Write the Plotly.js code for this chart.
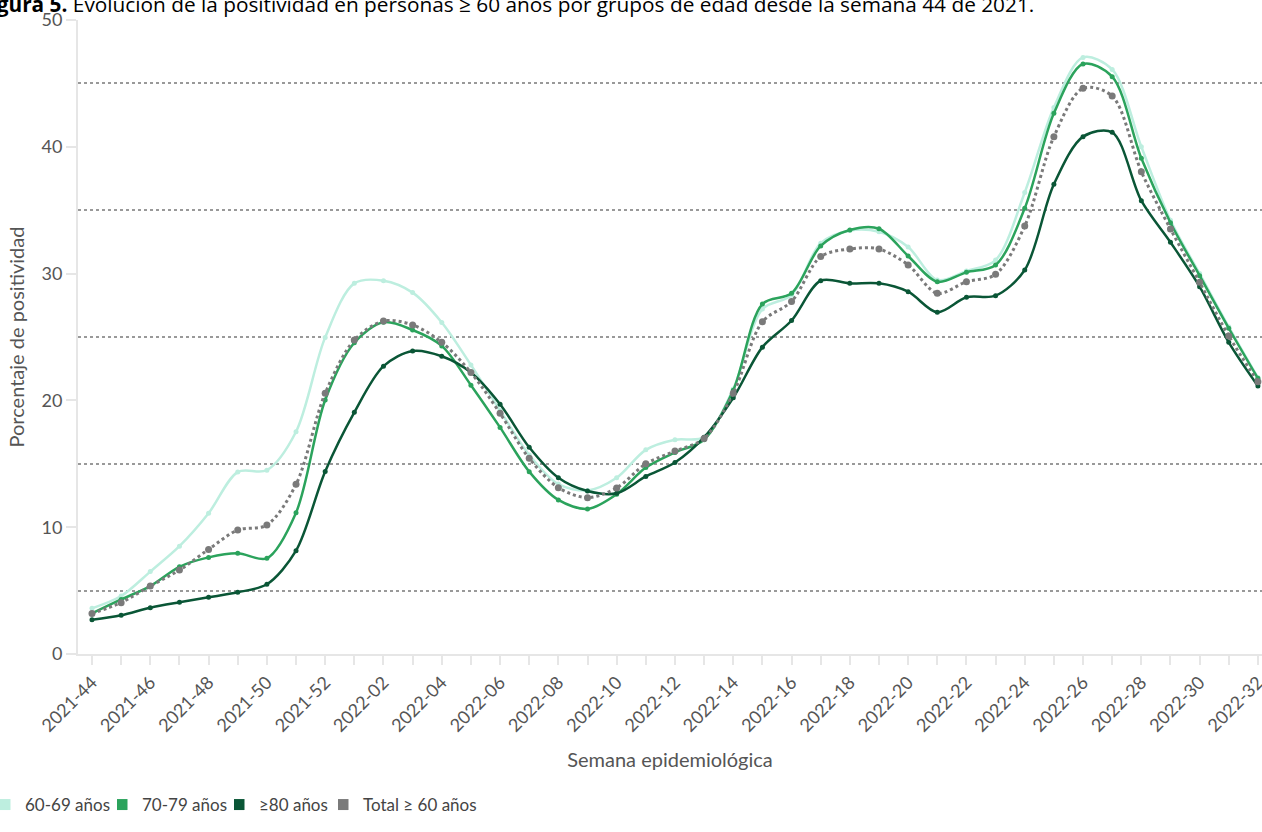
<!DOCTYPE html>
<html>
<head>
<meta charset="utf-8">
<script src="https://cdn.plot.ly/plotly-3.0.1.min.js"></script>
<style>html,body{margin:0;padding:0;background:#fff;}#chart{width:1262px;height:832px;}</style>
</head>
<body>
<div id="chart"></div>
<script>
const weeks = ["2021-44","2021-45","2021-46","2021-47","2021-48","2021-49","2021-50","2021-51","2021-52",
  "2022-01","2022-02","2022-03","2022-04","2022-05","2022-06","2022-07","2022-08","2022-09","2022-10",
  "2022-11","2022-12","2022-13","2022-14","2022-15","2022-16","2022-17","2022-18","2022-19","2022-20",
  "2022-21","2022-22","2022-23","2022-24","2022-25","2022-26","2022-27","2022-28","2022-29","2022-30",
  "2022-31","2022-32"];

const age60_69 = [3.6, 4.57, 6.5, 8.5, 11.1, 14.35, 14.5, 17.53, 24.97, 29.23, 29.44, 28.5, 26.15, 22.8, 19.2, 15.7, 13.4, 12.9, 13.9, 16.1, 16.9, 17.1, 20.9, 27.2, 28.3, 32.4, 33.4, 33.3, 32.1, 29.5, 30.2, 31.07, 36.4, 43.1, 47.05, 46.1, 40.0, 34.2, 30.0, 25.8, 21.8];
const age70_79 = [3.2, 4.3, 5.36, 6.88, 7.62, 7.94, 7.55, 11.14, 20.03, 24.55, 26.16, 25.55, 24.3, 21.2, 17.87, 14.38, 12.15, 11.44, 12.6, 14.7, 15.9, 16.9, 20.8, 27.6, 28.45, 32.18, 33.44, 33.54, 31.39, 29.36, 30.1, 30.68, 35.15, 42.64, 46.53, 45.53, 39.09, 34.01, 29.84, 25.69, 21.74];
const age80plus = [2.7, 3.05, 3.65, 4.08, 4.47, 4.87, 5.5, 8.15, 14.4, 19.06, 22.7, 23.9, 23.48, 22.2, 19.7, 16.3, 13.9, 12.85, 12.67, 14.0, 15.1, 17.1, 20.2, 24.2, 26.3, 29.44, 29.23, 29.23, 28.57, 26.95, 28.13, 28.26, 30.28, 37.04, 40.8, 41.14, 35.75, 32.47, 28.97, 24.58, 21.14];
const total60 = [3.2, 4.05, 5.36, 6.62, 8.25, 9.78, 10.17, 13.38, 20.56, 24.76, 26.26, 25.95, 24.58, 22.2, 18.98, 15.43, 13.12, 12.33, 13.1, 15.0, 16.0, 17.0, 20.56, 26.2, 27.8, 31.34, 31.94, 31.94, 30.68, 28.45, 29.36, 29.94, 33.75, 40.8, 44.61, 44.0, 38.04, 33.52, 29.31, 25.08, 21.47];

const seriesNames = ["60-69 años", "70-79 años", "\u226580 años", "Total \u2265 60 años"];
const colors = ["#bdeedf", "#2ba35c", "#0a5636", "#7a7a7a"];
const legendIds = ["legend", "legend2", "legend3", "legend4"];
const tickText = weeks.map((w, i) => (i % 2 === 0 ? w : ""));

const seriesData = [age60_69, age70_79, age80plus, total60];
const traces = [];
seriesData.forEach((ys, k) => {
  const isTotal = k === 3;
  traces.push({
    type: "scatter",
    mode: "lines+markers",
    x: weeks,
    y: ys,
    name: seriesNames[k],
    showlegend: false,
    line: {color: colors[k], width: isTotal ? 3 : 2.5, shape: "spline", smoothing: 0.9, dash: isTotal ? "dot" : "solid"},
    marker: {color: colors[k], size: isTotal ? 7 : 5},
    hoverinfo: "x+y+name"
  });
});
seriesNames.forEach((n, k) => {
  traces.push({
    type: "scatter",
    mode: "markers",
    x: [null],
    y: [null],
    name: n,
    showlegend: true,
    legend: legendIds[k],
    marker: {color: colors[k], size: 11, symbol: "square"}
  });
});

const W = 1262, H = 832;
const plotLeft = 78, plotWidth = 1184;
const legendPx = [0, 117, 234, 338];
function legendDef(px) {
  return {
    orientation: "h",
    xref: "container",
    yref: "container",
    x: px / W,
    xanchor: "left",
    y: 1 - 805 / H,
    yanchor: "middle",
    bgcolor: "rgba(0,0,0,0)",
    font: {size: 17, color: "#444", family: "Lato, sans-serif"},
    itemwidth: 30,
    indentation: -15
  };
}

const layout = {
  width: W,
  height: H,
  margin: {l: 78, r: 0, t: 20, b: 178},
  paper_bgcolor: "#fff",
  plot_bgcolor: "#fff",
  font: {family: "Lato, 'Noto Sans', sans-serif", color: "#555"},
  showlegend: true,
  legend: legendDef(legendPx[0]),
  legend2: legendDef(legendPx[1]),
  legend3: legendDef(legendPx[2]),
  legend4: legendDef(legendPx[3]),
  xaxis: {
    type: "category",
    automargin: false,
    range: [-0.48, 40.14],
    tickvals: weeks,
    ticktext: tickText,
    tickangle: -45,
    tickfont: {size: 18, color: "#555"},
    ticks: "outside",
    ticklen: 9,
    tickwidth: 2,
    tickcolor: "#e6e6e6",
    showline: true,
    linecolor: "#e6e6e6",
    linewidth: 2,
    showgrid: false,
    zeroline: false,
    title: {text: "Semana epidemiológica", font: {size: 20, color: "#555"}, standoff: 18}
  },
  yaxis: {
    automargin: true,
    range: [0, 50],
    dtick: 10,
    tickfont: {size: 18, color: "#555"},
    ticks: "outside",
    ticklen: 10,
    tickwidth: 2,
    tickcolor: "#e6e6e6",
    showline: true,
    linecolor: "#e6e6e6",
    linewidth: 2,
    showgrid: false,
    zeroline: false,
    minor: {dtick: 5, showgrid: true, gridcolor: "#999", gridwidth: 1.5, griddash: "dot", ticks: ""},
    title: {text: "Porcentaje de positividad", font: {size: 20, color: "#555"}, standoff: 12}
  },
  annotations: [{
    xref: "paper", yref: "paper",
    x: (-23 - plotLeft) / plotWidth, y: (654 - 4) / 634,
    xanchor: "left", yanchor: "middle",
    showarrow: false,
    align: "left",
    text: "<b>Figura 5.</b> Evolución de la positividad en personas \u2265 60 años por grupos de edad desde la semana 44 de 2021.",
    font: {family: "'Open Sans', sans-serif", size: 20.8, color: "#000"}
  }]
};

Plotly.newPlot("chart", traces, layout, {displayModeBar: false, responsive: false});
</script>
</body>
</html>
